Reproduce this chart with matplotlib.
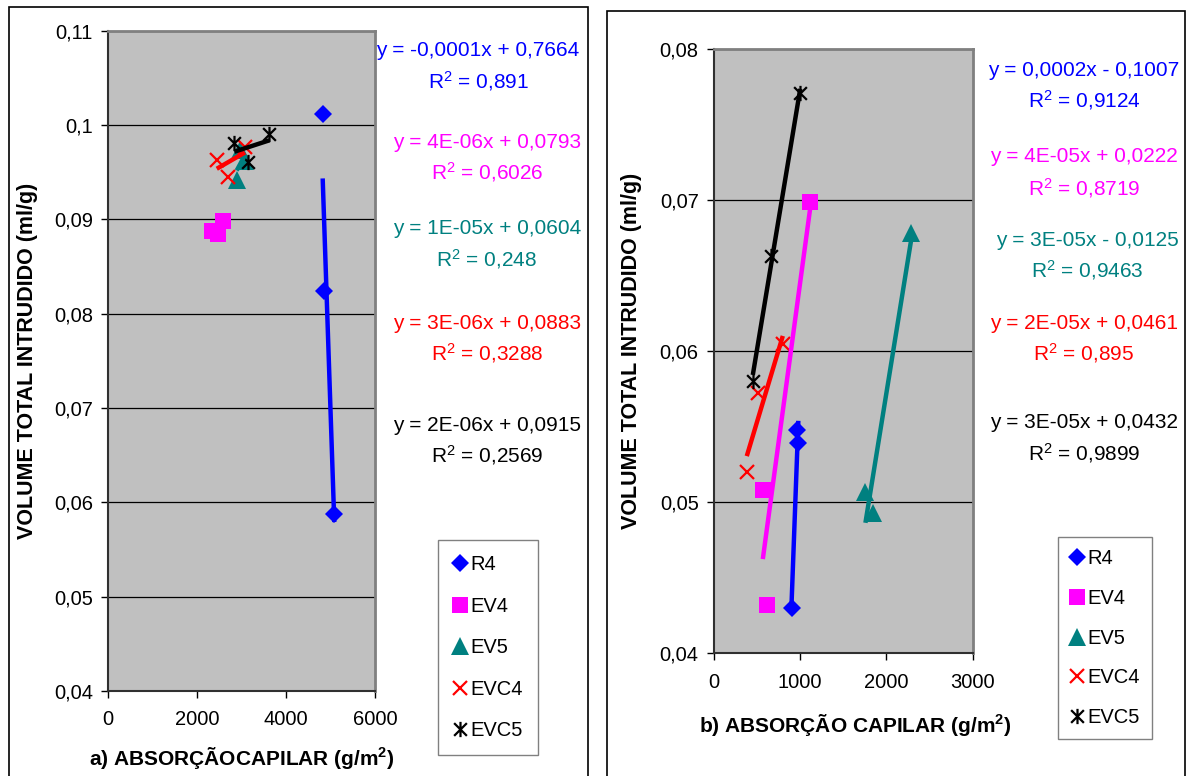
import numpy as np
import matplotlib
matplotlib.use("Agg")
import matplotlib.pyplot as plt
from matplotlib.path import Path
from matplotlib.patches import Rectangle
from matplotlib.lines import Line2D

plt.rcParams['font.family'] = ['Liberation Sans', 'DejaVu Sans']
plt.rcParams['mathtext.fontset'] = 'custom'
plt.rcParams['mathtext.rm'] = 'Liberation Sans'
plt.rcParams['mathtext.it'] = 'Liberation Sans:italic'
plt.rcParams['mathtext.bf'] = 'Liberation Sans:bold'

# ---------------- data ----------------
series = ["R4", "EV4", "EV5", "EVC4", "EVC5"]

# panel a) (left)
a_R4_x = [4823, 4853, 5084]
a_R4_y = [0.1012, 0.0824, 0.0588]
a_EV4_x = [2326, 2475, 2587]
a_EV4_y = [0.0888, 0.0884, 0.0898]
a_EV5_x = [2889, 3075, 2960]
a_EV5_y = [0.0942, 0.0962, 0.0974]
a_EVC4_x = [2440, 2690, 3075]
a_EVC4_y = [0.0963, 0.0945, 0.0977]
a_EVC5_x = [2835, 3622, 3150]
a_EVC5_y = [0.0981, 0.0990, 0.0961]

# panel b) (right)
b_R4_x = [900, 962, 978]
b_R4_y = [0.0430, 0.0548, 0.0539]
b_EV4_x = [1116, 566, 612]
b_EV4_y = [0.0699, 0.0508, 0.0432]
b_EV5_x = [2287, 1756, 1845]
b_EV5_y = [0.0678, 0.0507, 0.0493]
b_EVC4_x = [380, 516, 798]
b_EVC4_y = [0.0520, 0.0572, 0.0605]
b_EVC5_x = [1000, 659, 450]
b_EVC5_y = [0.0771, 0.0663, 0.0580]

a_eq = ["y = -0,0001x + 0,7664", "y = 4E-06x + 0,0793", "y = 1E-05x + 0,0604",
        "y = 3E-06x + 0,0883", "y = 2E-06x + 0,0915"]
a_r2 = ["0,891", "0,6026", "0,248", "0,3288", "0,2569"]
b_eq = ["y = 0,0002x - 0,1007", "y = 4E-05x + 0,0222", "y = 3E-05x - 0,0125",
        "y = 2E-05x + 0,0461", "y = 3E-05x + 0,0432"]
b_r2 = ["0,9124", "0,8719", "0,9463", "0,895", "0,9899"]

a_yticks = [0.04, 0.05, 0.06, 0.07, 0.08, 0.09, 0.10, 0.11]
a_ylabels = ["0,04", "0,05", "0,06", "0,07", "0,08", "0,09", "0,1", "0,11"]
a_xticks = [0, 2000, 4000, 6000]
b_yticks = [0.04, 0.05, 0.06, 0.07, 0.08]
b_ylabels = ["0,04", "0,05", "0,06", "0,07", "0,08"]
b_xticks = [0, 1000, 2000, 3000]

ylabel = "VOLUME TOTAL INTRUDIDO (ml/g)"
a_xlabel = r"a) ABSORÇÃOCAPILAR (g/m$^{\mathbf{2}}$)"
b_xlabel = r"b) ABSORÇÃO CAPILAR (g/m$^{\mathbf{2}}$)"

# ---------------- styles ----------------
colors = ["#0000FF", "#FF00FF", "#008080", "#FF0000", "#000000"]
star = Path([(-0.5, -0.5), (0.5, 0.5), (-0.5, 0.5), (0.5, -0.5), (0, -0.6), (0, 0.6)],
            [Path.MOVETO, Path.LINETO, Path.MOVETO, Path.LINETO, Path.MOVETO, Path.LINETO])
mstyles = [
    dict(marker="D", markersize=9.5, markeredgewidth=0),
    dict(marker="s", markersize=11.5, markeredgewidth=0),
    dict(marker="^", markersize=13, markeredgewidth=0),
    dict(marker="x", markersize=10, markeredgewidth=1.6),
    dict(marker=star, markersize=11, markeredgewidth=1.6, markerfacecolor="none"),
]

W, H = 1187, 776
fig = plt.figure(figsize=(W / 100, H / 100), dpi=100)
fig.patch.set_facecolor("white")


def fpx(x, y):
    return x / W, 1 - y / H


# panel borders
for (x0, y0, x1) in [(9, 7, 588), (607, 11, 1185)]:
    fig.patches.append(Rectangle(fpx(x0, 790), (x1 - x0) / W, (790 - y0) / H,
                                 transform=fig.transFigure, fill=False,
                                 edgecolor="black", linewidth=1.2, zorder=0))


def make_axes(rect_px, xs, ys, xlim, ylim, yticks, ylabels, xticks, xlabel,
              ylabel_x, xlabel_pos):
    x0, y0, x1, y1 = rect_px
    ax = fig.add_axes([x0 / W, 1 - y1 / H, (x1 - x0) / W, (y1 - y0) / H])
    ax.set_facecolor("#C0C0C0")
    ax.set_xlim(*xlim)
    ax.set_ylim(*ylim)
    ax.set_yticks(yticks)
    ax.set_yticklabels(ylabels)
    ax.set_xticks(xticks)
    ax.set_xticklabels([str(t) for t in xticks])
    ax.tick_params(axis="both", direction="out", length=5, width=1,
                   labelsize=14.5, colors="black")
    ax.tick_params(axis="y", pad=6)
    ax.tick_params(axis="x", pad=9)
    for t in yticks:
        ax.axhline(t, color="black", linewidth=0.9, zorder=1)
    for s in ["top", "right"]:
        ax.spines[s].set_color("#808080")
        ax.spines[s].set_linewidth(2)
    for s in ["left", "bottom"]:
        ax.spines[s].set_color("#303030")
        ax.spines[s].set_linewidth(1.5)
    # markers
    for i in range(5):
        ax.plot(xs[i], ys[i], linestyle="none", color=colors[i], zorder=3,
                clip_on=False, **mstyles[i])
    # linear trendlines spanning data range
    for i in range(5):
        xa = np.asarray(xs[i], float)
        ya = np.asarray(ys[i], float)
        k, b = np.polyfit(xa, ya, 1)
        xx = np.array([xa.min(), xa.max()])
        ax.plot(xx, k * xx + b, color=colors[i], linewidth=3.2, zorder=4,
                solid_capstyle="butt")
    fig.text(*fpx(ylabel_x, (y0 + y1) / 2), ylabel, rotation=90, ha="center",
             va="center", fontsize=15.5, fontweight="bold")
    fig.text(*fpx(*xlabel_pos), xlabel, ha="center", va="center",
             fontsize=15, fontweight="bold")
    return ax


ax1 = make_axes((108.3, 30.7, 375, 691),
                [a_R4_x, a_EV4_x, a_EV5_x, a_EVC4_x, a_EVC5_x],
                [a_R4_y, a_EV4_y, a_EV5_y, a_EVC4_y, a_EVC5_y],
                (0, 6000), (0.04, 0.11), a_yticks, a_ylabels, a_xticks,
                a_xlabel, 28, (242, 758))
ax2 = make_axes((714, 49, 972.7, 653.3),
                [b_R4_x, b_EV4_x, b_EV5_x, b_EVC4_x, b_EVC5_x],
                [b_R4_y, b_EV4_y, b_EV5_y, b_EVC4_y, b_EVC5_y],
                (0, 3000), (0.04, 0.08), b_yticks, b_ylabels, b_xticks,
                b_xlabel, 632, (855, 725))

# equation labels
a_pos = [(478, 50, 81), (487, 142, 172), (487, 228, 259), (487, 323, 353), (487, 425, 455)]
b_pos = [(1084, 70, 100), (1084, 157, 188), (1087, 240, 270), (1084, 323, 353), (1084, 423, 453)]
for eqs, r2s, pos in [(a_eq, a_r2, a_pos), (b_eq, b_r2, b_pos)]:
    for i in range(5):
        cx, ye, yr = pos[i]
        fig.text(*fpx(cx, ye), eqs[i], color=colors[i], fontsize=15,
                 ha="center", va="center")
        fig.text(*fpx(cx, yr), "R$^{2}$ = " + r2s[i], color=colors[i], fontsize=15,
                 ha="center", va="center")

# legends
handles = [Line2D([], [], linestyle="none", color=colors[i], **mstyles[i]) for i in range(5)]
for (lx, ly, sp, bp) in [(438, 540, 1.12, 0.75), (1058, 537, 1.03, 0.6)]:
    leg = fig.legend(handles, series, loc="upper left",
                     bbox_to_anchor=fpx(lx, ly), bbox_transform=fig.transFigure,
                     fontsize=14.5, frameon=True, fancybox=False, framealpha=1,
                     edgecolor="#808080", handlelength=0.7, handletextpad=0.15,
                     labelspacing=sp, borderpad=bp, borderaxespad=0)
    leg.get_frame().set_linewidth(1.0)

fig.savefig("out.png", dpi=100, facecolor="white")
